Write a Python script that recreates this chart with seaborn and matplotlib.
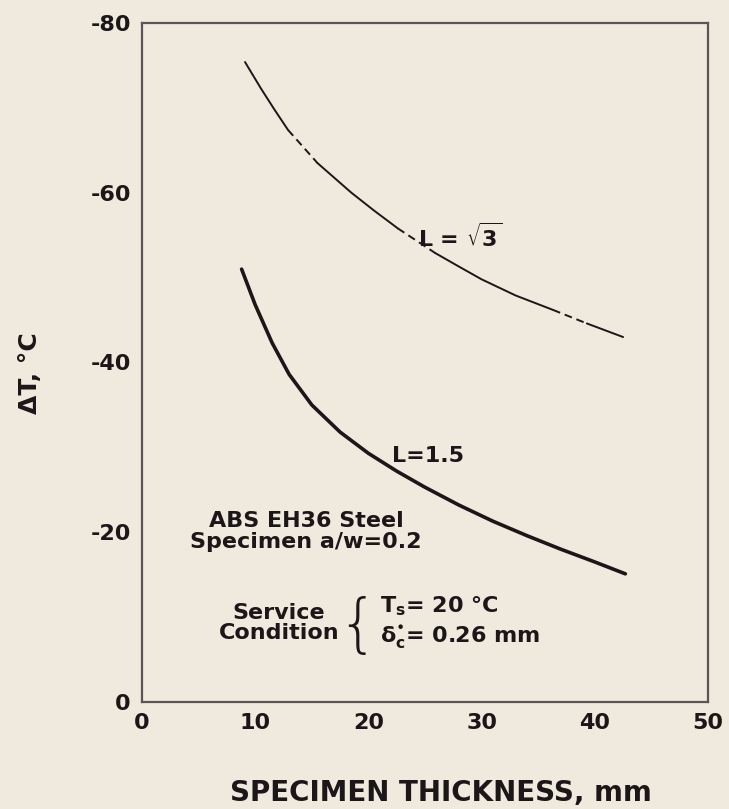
import matplotlib
matplotlib.use("Agg")
import matplotlib.pyplot as plt
import seaborn as sns
import pandas as pd

# Temperature shift vs. specimen thickness, two constraint levels
# Upper curve (L = sqrt(3)), split into solid and dashed stretches
upper_x = [9.1, 10.5, 11.7, 12.9, 12.9, 15.5, 15.5, 18.5, 20.5, 22.6, 22.6, 25.9,
           25.9, 28.0, 30.0, 33.0, 36.3, 36.3, 39.3, 39.3, 42.5]
upper_y = [-75.4, -72.3, -69.8, -67.4, -67.4, -63.5, -63.5, -60.0, -57.9, -55.8, -55.8, -52.9,
           -52.9, -51.3, -49.8, -47.9, -46.2, -46.2, -44.6, -44.6, -43.0]
upper_seg = [0, 0, 0, 0, 1, 1, 2, 2, 2, 2, 3, 3, 4, 4, 4, 4, 4, 5, 5, 6, 6]
upper_kind = ["solid"] * 4 + ["broken"] * 2 + ["solid"] * 4 + ["broken"] * 2 + \
             ["solid"] * 5 + ["broken"] * 2 + ["solid"] * 2

# Lower curve (L = 1.5)
lower_x = [8.8, 10.0, 11.5, 13.0, 15.0, 17.5, 20.0, 22.5, 25.0, 28.0, 31.0, 34.0, 37.0, 40.0, 42.7]
lower_y = [-51.0, -46.8, -42.3, -38.6, -35.0, -31.8, -29.3, -27.2, -25.3, -23.2, -21.3, -19.6, -18.0, -16.5, -15.1]

x_ticks = [0, 10, 20, 30, 40, 50]
y_ticks = [-80, -60, -40, -20, 0]

bg = "#f0e9de"
ink = "#1c1618"
frame = "#5e5258"

sns.set_theme(style="ticks")
plt.rcParams["font.family"] = ["DejaVu Sans"]
plt.rcParams["mathtext.default"] = "regular"
plt.rcParams["axes.unicode_minus"] = False

fig = plt.figure(figsize=(7.29, 8.09), dpi=100, facecolor=bg)
ax = fig.add_axes([142 / 729, 1 - 702 / 809, (708 - 142) / 729, (702 - 23) / 809])
ax.set_facecolor(bg)

upper = pd.DataFrame({"x": upper_x, "y": upper_y, "seg": upper_seg, "kind": upper_kind})
lower = pd.DataFrame({"x": lower_x, "y": lower_y})

sns.lineplot(data=upper, x="x", y="y", units="seg", estimator=None, style="kind",
             dashes={"solid": "", "broken": (4, 2.5)}, color=ink, linewidth=1.4,
             sort=False, legend=False, ax=ax)
sns.lineplot(data=lower, x="x", y="y", color=ink, linewidth=2.6, sort=False,
             legend=False, ax=ax)

ax.set_xlim(0, 50)
ax.set_ylim(0, -80)

for s in ax.spines.values():
    s.set_color(frame)
    s.set_linewidth(1.6)

ax.set_xticks(x_ticks)
ax.set_yticks(y_ticks)
ax.set_xticks([10, 20, 30, 40], minor=True)
ax.set_yticks([-60, -40, -20], minor=True)
ax.tick_params(which="major", length=0, labelsize=16, labelcolor=ink, pad=8)
ax.tick_params(which="minor", direction="in", length=13, width=1.5, color=ink,
               top=True, right=True, bottom=True, left=True)
for lab in ax.get_xticklabels() + ax.get_yticklabels():
    lab.set_fontweight("bold")

ax.set_xlabel("SPECIMEN THICKNESS, mm", fontsize=20, fontweight="bold", color=ink)
ax.xaxis.set_label_coords((441 - 142) / 566, -(793 - 702) / 679)
ax.set_ylabel("ΔT, °C", fontsize=18, fontweight="bold", color=ink)
ax.yaxis.set_label_coords(-(142 - 30) / 566, (702 - 373) / 679)
ax.xaxis.label.set_va("center")
ax.yaxis.label.set_va("center")

tkw = dict(color=ink, fontweight="bold")
ax.text(24.4, -54.8, r"L = $\sqrt{3}$", fontsize=16, va="center", ha="left", **tkw)
ax.text(22.1, -29.0, "L=1.5", fontsize=16, va="center", ha="left", **tkw)
ax.text(14.5, -20.1, "ABS EH36 Steel\nSpecimen a/w=0.2", fontsize=16, va="center",
        ha="center", linespacing=1.1, **tkw)
ax.text(12.1, -9.3, "Service\nCondition", fontsize=16, va="center", ha="center",
        linespacing=1.0, **tkw)
ax.text(19.0, -8.8, "{", fontsize=46, va="center", ha="center", color=ink,
        fontweight="light")
ax.text(21.0, -11.3, "T$_s$= 20 °C", fontsize=16, va="center", ha="left", **tkw)
ax.text(21.0, -7.6, "δ$_c^{•}$= 0.26 mm", fontsize=16, va="center", ha="left", **tkw)

fig.savefig("out.png", dpi=100, facecolor=bg)
